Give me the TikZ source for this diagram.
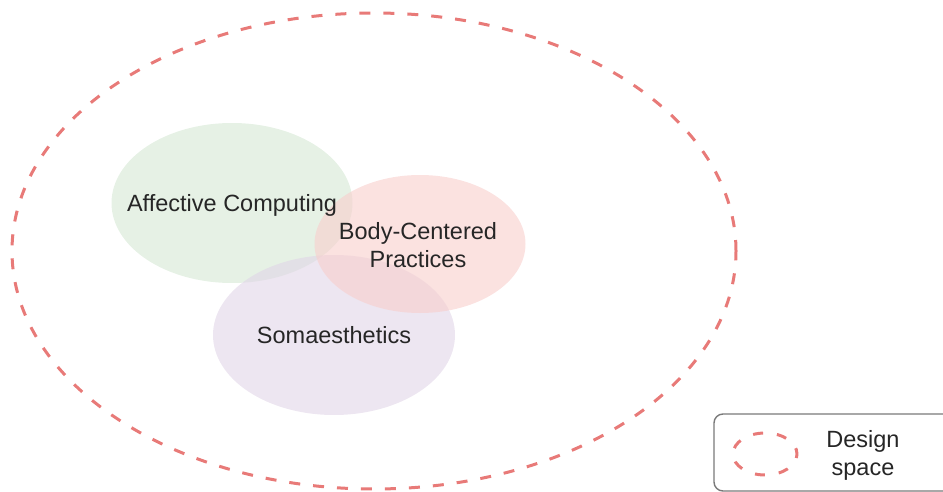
\documentclass[tikz,border=0pt]{standalone}
\usepackage{fontspec}
\setmainfont{Liberation Sans}
\usetikzlibrary{shapes.geometric}
\definecolor{spacered}{RGB}{232,122,120}
\definecolor{affgreen}{HTML}{D5E8D4}
\definecolor{bodypink}{HTML}{F8CECC}
\definecolor{somapurple}{HTML}{E1D5E7}
\definecolor{labeltext}{HTML}{262626}
\definecolor{boxgray}{HTML}{7A7A7A}
\tikzset{
  area/.style={ellipse, draw=none, fill opacity=0.6, inner sep=0pt},
  arealabel/.style={align=center, text=labeltext, inner sep=0pt,
    font=\fontsize{23.5}{28}\selectfont},
  spaceline/.style={draw=spacered, line width=3pt,
    dash pattern=on 11pt off 13pt},
  legendbox/.style={draw=boxgray, line width=1.4pt, rounded corners=9pt},
  legendtext/.style={align=center, text=labeltext,
    font=\fontsize{23.5}{28}\selectfont}
}
\begin{document}
\begin{tikzpicture}[x=1pt, y=-1pt]
  \useasboundingbox (0,0) rectangle (943,492);
  \clip (0,0) rectangle (943,492);

  % overall design space
  \node[ellipse, spaceline, minimum width=724pt, minimum height=476pt]
    (space) at (374,251) {};

  % the three overlapping fields
  \node[area, fill=affgreen, minimum width=241pt, minimum height=160pt]
    (affective) at (232,203) {};
  \node[area, fill=somapurple, minimum width=242pt, minimum height=160pt]
    (soma) at (334,335) {};
  \node[area, fill=bodypink, minimum width=211pt, minimum height=138pt]
    (body) at (420,244) {};

  \node[arealabel] (affectivelabel) at (232,205) {Affective Computing};
  \node[arealabel] (bodylabel) at (418,245) {Body-Centered\\Practices};
  \node[arealabel] (somalabel) at (334,335) {Somaesthetics};

  % legend
  \draw[legendbox] (714,414) rectangle (960,491);
  \coordinate (legend) at (714,414);
  \node[ellipse, spaceline, minimum width=64pt, minimum height=42pt,
    dash pattern=on 10pt off 14pt, dash phase=4pt]
    (legendmark) at (765,454) {};
  \node[legendtext] (legendlabel) at (863,455) {Design\\space};
\end{tikzpicture}
\end{document}
